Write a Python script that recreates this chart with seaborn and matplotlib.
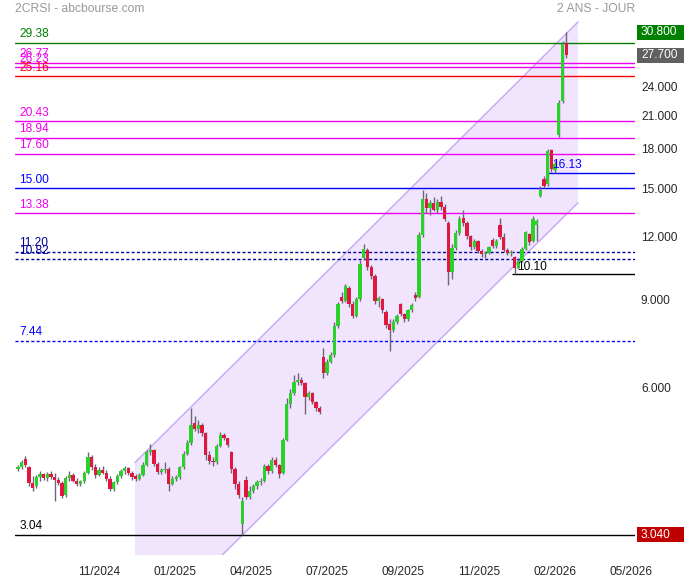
import numpy as np
import pandas as pd
import matplotlib
matplotlib.use("Agg")
import matplotlib.pyplot as plt
import matplotlib.transforms as mtransforms
from matplotlib.patches import Rectangle
from matplotlib.ticker import FixedLocator, NullLocator, FuncFormatter
import seaborn as sns


# daily candles (2CRSI)
open_px = [4.12, 4.15, 4.32, 4.15, 3.86, 3.80, 3.96, 4.02, 3.95, 4.03,
           3.97, 3.92, 3.86, 3.66, 3.95, 4.00, 3.90, 3.84, 3.90, 4.05,
           4.35, 4.15, 4.00, 4.10, 4.05, 3.94, 3.76, 3.88, 3.98, 4.08,
           4.14, 4.04, 3.98, 3.94, 4.00, 4.20, 4.46, 4.50, 4.22, 4.06,
           4.10, 4.12, 3.85, 3.94, 3.96, 4.15, 4.42, 4.65, 5.10, 4.95,
           5.05, 4.85, 4.40, 4.28, 4.25, 4.58, 4.82, 4.74, 4.45, 4.12,
           3.85, 3.20, 3.92, 3.62, 3.72, 3.80, 3.88, 3.90, 4.18, 4.08,
           4.30, 4.20, 4.05, 4.70, 5.55, 5.85, 6.15, 6.20, 6.12, 5.75,
           5.85, 5.60, 5.45, 6.90, 6.40, 6.75, 6.95, 7.95, 9.10, 8.95,
           9.50, 8.80, 8.35, 9.00, 10.90, 11.30, 10.45, 10.00, 8.95, 9.00,
           8.50, 8.05, 7.80, 8.12, 8.80, 8.40, 8.20, 8.55, 9.20, 9.10,
           12.10, 14.30, 13.70, 14.00, 13.60, 14.10, 13.80, 12.80, 10.20, 11.40,
           12.20, 13.10, 12.80, 12.05, 11.45, 11.80, 11.25, 11.10, 11.15, 11.85,
           11.50, 12.70, 12.00, 11.30, 11.15, 10.95, 10.40, 10.75, 11.35, 12.15,
           11.75, 12.70, 14.50, 15.70, 15.30, 17.90, 16.30, 19.20, 22.40, 29.30]
high_px = [4.20, 4.30, 4.38, 4.18, 3.98, 4.00, 4.08, 4.05, 4.06, 4.08,
           4.05, 3.97, 3.90, 3.98, 4.08, 4.05, 3.95, 3.92, 4.08, 4.45,
           4.40, 4.22, 4.15, 4.18, 4.10, 3.98, 3.90, 4.02, 4.12, 4.18,
           4.16, 4.08, 4.02, 4.04, 4.25, 4.50, 4.62, 4.52, 4.26, 4.14,
           4.25, 4.15, 3.98, 4.00, 4.18, 4.48, 4.70, 5.45, 5.25, 5.15,
           5.08, 4.88, 4.48, 4.35, 4.62, 4.88, 4.85, 4.76, 4.48, 4.15,
           3.90, 3.62, 3.98, 3.80, 3.85, 3.92, 3.95, 4.22, 4.22, 4.35,
           4.36, 4.22, 4.75, 5.70, 5.95, 6.35, 6.40, 6.30, 6.15, 5.90,
           5.88, 5.62, 5.50, 7.20, 6.85, 7.05, 8.10, 8.90, 9.30, 9.65,
           9.55, 8.95, 9.10, 10.80, 11.60, 11.40, 10.55, 10.10, 9.15, 9.05,
           8.55, 8.20, 8.20, 8.40, 8.85, 8.45, 8.60, 8.85, 9.30, 12.30,
           14.90, 14.70, 14.20, 14.40, 14.30, 14.50, 13.95, 12.90, 11.60, 12.40,
           13.20, 13.60, 12.90, 12.10, 11.90, 11.85, 11.35, 11.25, 11.50, 11.95,
           11.90, 13.10, 12.20, 11.40, 11.30, 11.00, 10.85, 11.45, 12.35, 12.20,
           13.20, 13.00, 15.20, 15.90, 18.00, 18.00, 17.00, 22.50, 29.60, 30.80]
low_px = [4.08, 4.12, 4.15, 3.80, 3.72, 3.78, 3.90, 3.92, 3.90, 3.93,
          3.55, 3.82, 3.60, 3.62, 3.90, 3.88, 3.80, 3.80, 3.86, 4.02,
          4.10, 3.95, 3.98, 4.02, 3.90, 3.72, 3.72, 3.85, 3.95, 4.02,
          4.00, 3.92, 3.90, 3.92, 3.98, 4.18, 4.40, 4.18, 4.02, 4.02,
          4.05, 3.72, 3.82, 3.90, 3.94, 4.12, 4.40, 4.60, 4.90, 4.85,
          4.80, 4.30, 4.22, 4.18, 4.22, 4.55, 4.70, 4.55, 4.05, 3.75,
          3.60, 3.04, 3.58, 3.58, 3.68, 3.76, 3.82, 3.88, 4.02, 4.05,
          4.15, 3.95, 4.02, 4.68, 5.45, 5.80, 6.05, 6.05, 5.30, 5.65,
          5.55, 5.38, 5.30, 6.25, 6.35, 6.70, 6.90, 7.90, 8.85, 8.90,
          8.70, 8.25, 8.30, 8.95, 10.80, 10.30, 9.90, 8.80, 8.70, 8.45,
          7.90, 7.10, 7.75, 8.05, 8.35, 8.10, 8.15, 8.50, 8.95, 9.05,
          12.00, 13.40, 13.30, 13.50, 13.40, 13.60, 12.90, 9.60, 9.90, 11.30,
          12.10, 12.60, 11.90, 11.30, 11.35, 11.15, 10.95, 10.90, 11.10, 11.40,
          11.40, 11.90, 11.20, 11.05, 11.00, 10.10, 10.35, 10.70, 11.30, 11.55,
          11.70, 11.80, 14.40, 15.00, 15.20, 16.20, 16.10, 19.00, 22.20, 27.40]
close_px = [4.15, 4.26, 4.20, 3.86, 3.78, 3.96, 4.02, 3.95, 4.03, 3.97,
            3.92, 3.86, 3.64, 3.95, 4.00, 3.90, 3.84, 3.90, 4.05, 4.35,
            4.15, 4.00, 4.10, 4.05, 3.94, 3.76, 3.88, 3.98, 4.08, 4.14,
            4.04, 3.96, 3.94, 4.00, 4.20, 4.46, 4.50, 4.22, 4.06, 4.10,
            4.12, 3.85, 3.94, 3.96, 4.15, 4.42, 4.65, 5.05, 4.95, 5.05,
            4.85, 4.40, 4.28, 4.25, 4.58, 4.82, 4.74, 4.60, 4.12, 3.85,
            3.65, 3.55, 3.62, 3.72, 3.80, 3.88, 3.90, 4.18, 4.08, 4.30,
            4.20, 4.02, 4.70, 5.55, 5.85, 6.15, 6.20, 6.12, 5.75, 5.85,
            5.60, 5.45, 5.35, 6.40, 6.75, 6.95, 7.95, 8.80, 8.95, 9.55,
            8.80, 8.35, 9.00, 10.60, 11.35, 10.45, 10.00, 8.95, 9.05, 8.55,
            8.00, 7.80, 8.12, 8.35, 8.40, 8.20, 8.55, 8.78, 9.05, 12.10,
            14.30, 13.70, 14.00, 13.60, 14.10, 13.80, 13.05, 10.20, 11.40, 12.20,
            13.00, 12.80, 12.05, 11.45, 11.80, 11.25, 11.10, 11.15, 11.45, 11.50,
            11.80, 12.00, 11.30, 11.15, 11.20, 10.40, 10.75, 11.35, 12.25, 11.70,
            13.05, 12.90, 14.90, 15.20, 17.80, 16.40, 16.80, 22.20, 29.20, 27.70]

# date labels under the x axis
month_labels = ["11/2024", "01/2025", "04/2025", "07/2025",
                "09/2025", "11/2025", "02/2026", "05/2026"]

# price grid on the right
price_ticks = [6, 9, 12, 15, 18, 21, 24]

# horizontal support / resistance levels drawn across the chart
level_values = [29.38, 26.77, 26.23, 25.16, 20.43, 18.94, 17.60,
                15.00, 13.38, 11.20, 10.82, 7.44, 3.04]
level_colors = ["#008000", "#ee00ee", "#ee00ee", "#ff0000", "#ee00ee",
                "#ee00ee", "#ee00ee", "#0000ff", "#ee00ee", "#000099",
                "#000099", "#0000ff", "#000000"]
level_dotted = [False, False, False, False, False, False, False,
                False, False, True, True, True, False]

# short levels starting at a given bar
short_levels = [10.10, 16.13]
short_start = [134.2, 143.8]
short_colors = ["#000000", "#0000ff"]

# trend channel (bar index, low edge, high edge)
channel_x = [31.8, 152.2]
channel_low = [1.86, 14.04]
channel_high = [4.24, 32.3]

# last / high / low tags on the price axis
tag_values = [30.80, 27.70, 3.04]
tag_colors = ["#008000", "#606060", "#c00000"]


def main():
    sns.set_style("white")
    plt.rcParams['font.family'] = ['Liberation Sans', 'DejaVu Sans']

    df = pd.DataFrame({'open': open_px, 'high': high_px,
                       'low': low_px, 'close': close_px})
    df['idx'] = np.arange(len(df))
    df['up'] = df['close'] >= df['open']

    fig = plt.figure(figsize=(6.84, 5.80), dpi=100)
    ax = fig.add_axes([15 / 684, 25 / 580, 620 / 684, 535 / 580])
    ax.set_yscale('log')

    # channel
    ax.fill_between(channel_x, channel_low, channel_high,
                    color="#f0e5fd", lw=0, zorder=1)
    ax.plot(channel_x, channel_high, color="#cdaaf5", lw=1.1, zorder=1.5)
    ax.plot(channel_x, channel_low, color="#cdaaf5", lw=1.1, zorder=1.5)

    xmax = 167.7
    fs = 8.6

    # levels
    for v, col, dot in zip(level_values, level_colors, level_dotted):
        ls = (0, (2.2, 1.6)) if dot else '-'
        ax.axhline(v, color=col, lw=1.0, ls=ls, zorder=2)
        ax.annotate(f"{v:.2f}", xy=(0, v), xycoords=('axes fraction', 'data'),
                    xytext=(3, 1.8), textcoords='offset points',
                    ha='left', va='bottom', color=col, fontsize=fs)

    for v, x0, col in zip(short_levels, short_start, short_colors):
        ax.hlines(v, x0, xmax, color=col, lw=1.0, zorder=2)
        ax.annotate(f"{v:.2f}", xy=(x0, v), xytext=(3.5, 1.0),
                    textcoords='offset points', ha='left', va='bottom',
                    color=col, fontsize=fs, zorder=6)

    # candles
    colors = np.where(df['up'], "#2bd12b", "#e0173f")
    ax.vlines(df['idx'], df['low'], df['high'], color="#6f6479",
              lw=1.0, zorder=3)
    body_lo = np.minimum(df['open'], df['close'])
    body_h = np.maximum(np.abs(df['close'] - df['open']), 0.02)
    ax.bar(df['idx'], body_h, bottom=body_lo, width=0.9,
           color=colors, lw=0, zorder=4)

    ax.set_xlim(-0.8, xmax)
    ax.set_ylim(2.77, 32.6)

    # axes styling
    ax.yaxis.tick_right()
    ax.yaxis.set_major_locator(FixedLocator(price_ticks))
    ax.yaxis.set_minor_locator(NullLocator())
    ax.yaxis.set_major_formatter(FuncFormatter(lambda v, p: f"{v:.3f}"))
    ax.tick_params(axis='y', length=0, pad=4.3, labelsize=fs)

    tick_pos = 22.0 + 20.65 * np.arange(len(month_labels))
    ax.set_xticks(tick_pos)
    ax.set_xticklabels(month_labels)
    ax.tick_params(axis='x', length=0, pad=8, labelsize=fs)
    sns.despine(ax=ax, left=True, bottom=True)

    # fixed-width value tags on the price axis
    trans = mtransforms.blended_transform_factory(ax.transAxes, ax.transData)
    half = np.exp(7.5 / 217)
    for v, col in zip(tag_values, tag_colors):
        ax.add_patch(Rectangle((1.0 + 2 / 620, v / half), 47 / 620,
                               v * half - v / half, transform=trans,
                               fc=col, ec='none', clip_on=False, zorder=5))
        ax.text(1.0 + 6 / 620, v, f"{v:.3f}", transform=trans,
                ha='left', va='center', color='white', fontsize=fs,
                clip_on=False, zorder=6)

    fig.text(15 / 684, 1 - 9 / 580, "2CRSI - abcbourse.com",
             color="#999999", fontsize=8.7, va='center', ha='left')
    fig.text(635 / 684, 1 - 9 / 580, "2 ANS - JOUR",
             color="#999999", fontsize=8.7, va='center', ha='right')

    fig.savefig("out.png", dpi=100)


if __name__ == "__main__":
    main()
